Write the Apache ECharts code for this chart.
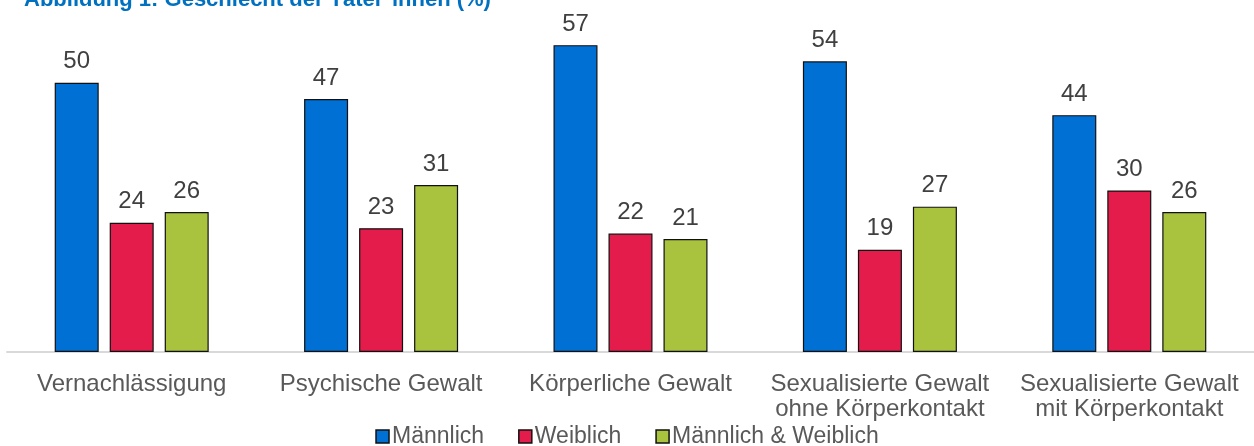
<!DOCTYPE html>
<html>
<head>
<meta charset="utf-8">
<script src="https://cdn.jsdelivr.net/npm/echarts@6/dist/echarts.min.js"></script>
<style>
    html, body { margin: 0; padding: 0; background: #fff; }
    #chart_bar { width: 1254px; height: 446px; }
</style>
</head>
<body>
<div id="chart_bar"></div>
<script>
    // Daten
    var categories = ['Vernachlässigung', 'Psychische Gewalt', 'Körperliche Gewalt',
        'Sexualisierte Gewalt\nohne Körperkontakt', 'Sexualisierte Gewalt\nmit Körperkontakt'];
    var maennlich = [50, 47, 57, 54, 44];
    var weiblich = [24, 23, 22, 19, 30];
    var beide = [26, 31, 21, 27, 26];

    var fontFamily = '"Liberation Sans", Arial, sans-serif';
    var myChart = echarts.init(document.getElementById('chart_bar'));

    function bar(name, data, color) {
        return {
            name: name,
            type: 'bar',
            data: data,
            barWidth: 44,
            barGap: '25%',
            itemStyle: {
                color: color,
                borderColor: '#111',
                borderWidth: 1.2
            },
            label: {
                show: true,
                position: 'top',
                distance: 9,
                color: '#404040',
                fontSize: 24,
                fontFamily: fontFamily
            }
        };
    }

    var option = {
        animation: false,
        title: {
            text: '{n|Abbildung 1: }{b|Geschlecht der Täter*innen (%)}',
            left: 24,
            top: -11,
            padding: 0,
            textStyle: {
                rich: {
                    n: {color: '#0070C0', fontSize: 22, lineHeight: 22, fontFamily: fontFamily},
                    b: {color: '#0070C0', fontSize: 22, lineHeight: 22, fontWeight: 'bold', fontFamily: fontFamily}
                }
            }
        },
        legend: {
            data: ['Männlich', 'Weiblich', 'Männlich & Weiblich'],
            top: 420,
            left: 'center',
            icon: 'rect',
            itemWidth: 13,
            itemHeight: 13,
            itemGap: 34,
            textStyle: {
                color: '#595959',
                fontSize: 23,
                lineHeight: 23,
                fontFamily: fontFamily,
                padding: [0, 0, 0, -2]
            },
            itemStyle: {
                borderColor: '#111',
                borderWidth: 1.5
            }
        },
        grid: {
            left: 7,
            right: 0,
            top: 29,
            bottom: 94
        },
        xAxis: {
            type: 'category',
            data: categories,
            axisLine: {lineStyle: {color: '#d9d9d9', width: 2}},
            axisTick: {show: false},
            axisLabel: {
                color: '#595959',
                fontSize: 24,
                fontFamily: fontFamily,
                margin: 20,
                lineHeight: 25,
                interval: 0
            }
        },
        yAxis: {
            type: 'value',
            min: 0,
            max: 60,
            show: false,
            splitLine: {show: false}
        },
        series: [
            bar('Männlich', maennlich, '#0070D4'),
            bar('Weiblich', weiblich, '#E31C4B'),
            bar('Männlich & Weiblich', beide, '#A9C33F')
        ]
    };
    myChart.setOption(option);
</script>
</body>
</html>
